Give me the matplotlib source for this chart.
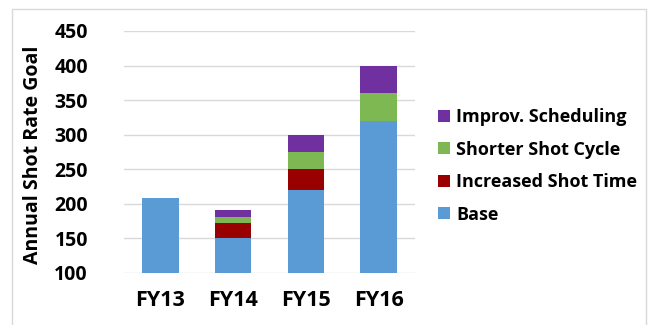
import matplotlib.pyplot as plt
import numpy as np
from matplotlib.patches import Rectangle

plt.rcParams['font.family'] = ['Open Sans', 'DejaVu Sans']
plt.rcParams['font.weight'] = 'bold'

# data
years = ['FY13', 'FY14', 'FY15', 'FY16']
base = [208, 150, 220, 320]
increased_shot_time = [0, 23, 30, 0]
shorter_shot_cycle = [0, 8, 25, 40]
improv_scheduling = [0, 10, 25, 40]

series = [
    ('Base', base, '#5B9BD5'),
    ('Increased Shot Time', increased_shot_time, '#990000'),
    ('Shorter Shot Cycle', shorter_shot_cycle, '#7EB853'),
    ('Improv. Scheduling', improv_scheduling, '#7030A0'),
]

fig = plt.figure(figsize=(6.48, 3.25), dpi=100)
ax = fig.add_axes([124 / 648, 1 - 273 / 325, 291 / 648, 242 / 325])

# light frame around the figure
fig.patches.append(Rectangle((12 / 648, -0.1), 634 / 648, 1.1 - 9 / 325,
                             transform=fig.transFigure, fill=False,
                             edgecolor='#d9d9d9', linewidth=1))

x = np.arange(len(years))
bottom = np.zeros(len(years))
handles = []
for name, vals, color in series:
    vals = np.array(vals, dtype=float)
    # the first stack starts at the axis floor
    start = np.where(bottom == 0, 100, bottom)
    heights = np.where(bottom == 0, vals - 100, vals)
    keep = vals > 0
    h = ax.bar(x[keep], heights[keep], 0.5, bottom=start[keep], color=color,
               label=name, zorder=3)
    handles.append(h)
    bottom = bottom + vals

ax.set_xlim(-0.5, 3.5)
ax.set_ylim(100, 450)
ax.set_yticks(np.arange(100, 451, 50))
ax.set_xticks(x)
ax.set_xticklabels(years, fontsize=15.5, fontweight='bold')
for lbl in ax.get_yticklabels():
    lbl.set_fontsize(14)
    lbl.set_fontweight('bold')
ax.tick_params(axis='y', length=0, pad=26)
ax.tick_params(axis='x', length=0, pad=12)
ax.grid(axis='y', color='#d9d9d9', linewidth=1, zorder=0)
for s in ax.spines.values():
    s.set_visible(False)

fig.text(33 / 648, 1 - 155 / 325, 'Annual Shot Rate Goal', rotation=90,
         ha='center', va='center', fontsize=14, fontweight='bold')

leg = fig.legend(handles[::-1], [s[0] for s in series][::-1],
                 loc='center left', bbox_to_anchor=(422 / 648, 1 - 166 / 325),
                 frameon=False, handlelength=0.65,
                 handleheight=0.65, handletextpad=0.35, labelspacing=0.8,
                 prop={'weight': 'bold', 'size': 13})

fig.savefig('out.png', dpi=100)
